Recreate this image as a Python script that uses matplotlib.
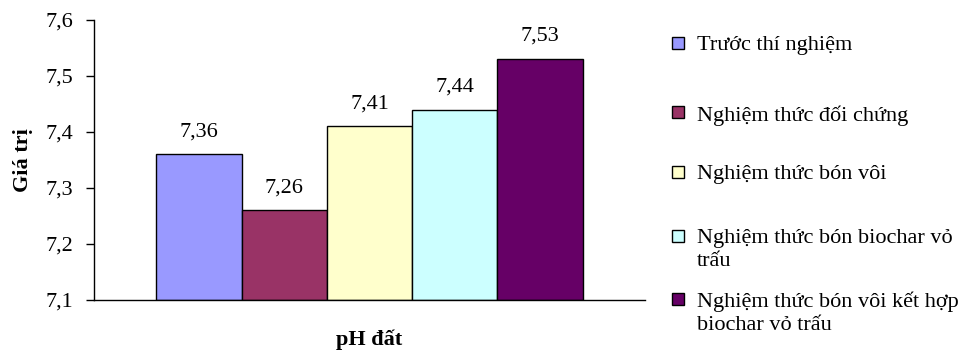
import matplotlib
matplotlib.use("Agg")
import matplotlib.pyplot as plt
from matplotlib.patches import Rectangle

plt.rcParams['font.family'] = ['Liberation Serif', 'DejaVu Serif']

categories = ["Trước thí nghiệm", "Nghiệm thức đối chứng", "Nghiệm thức bón vôi",
              "Nghiệm thức bón biochar vỏ\ntrấu", "Nghiệm thức bón vôi kết hợp\nbiochar vỏ trấu"]
values = [7.36, 7.26, 7.41, 7.44, 7.53]
colors = ["#9999FF", "#993366", "#FFFFCC", "#CCFFFF", "#660066"]
yticks = [7.1, 7.2, 7.3, 7.4, 7.5, 7.6]
ytick_labels = ["7,1", "7,2", "7,3", "7,4", "7,5", "7,6"]

FS = 16

fig = plt.figure(figsize=(9.6, 3.53), dpi=100)
ax = fig.add_axes([94/960, 1-300/353, (645-94)/960, 280/353])

base = 7.1
xs = list(range(len(values)))
ax.bar(xs, [v - base for v in values], bottom=base, width=1.0, color=colors,
       edgecolor="black", linewidth=1.0)
for x, v in zip(xs, values):
    ax.annotate(f"{v:.2f}".replace(".", ","), (x, v), xytext=(0, 9.5),
                textcoords="offset points", ha="center", va="bottom", fontsize=FS)

ax.set_xlim(-1.23, 5.23)
ax.set_ylim(7.1, 7.6)
ax.set_yticks(yticks)
ax.set_yticklabels(ytick_labels, fontsize=FS)
ax.set_xticks([])
ax.tick_params(axis="y", direction="out", length=5.5, width=1, pad=9.5)
for s in ["top", "right"]:
    ax.spines[s].set_visible(False)
for s in ["left", "bottom"]:
    ax.spines[s].set_linewidth(1.0)
ax.set_ylabel("Giá trị", fontsize=FS, fontweight="bold", labelpad=9)
ax.set_xlabel("pH đất", fontsize=FS, fontweight="bold", labelpad=21)

# legend
leg_y = [43, 112, 172, 236, 299]
for lab, col, yp in zip(categories, colors, leg_y):
    fig.patches.append(Rectangle((672/960, 1-(yp+6)/353), 12/960, 12/353,
                                 transform=fig.transFigure, facecolor=col,
                                 edgecolor="black", linewidth=1.0))
    fig.text(697/960, 1-(yp-7)/353, lab, fontsize=FS, ha="left", va="top",
             linespacing=1.25)

fig.savefig("out.png", dpi=100)
